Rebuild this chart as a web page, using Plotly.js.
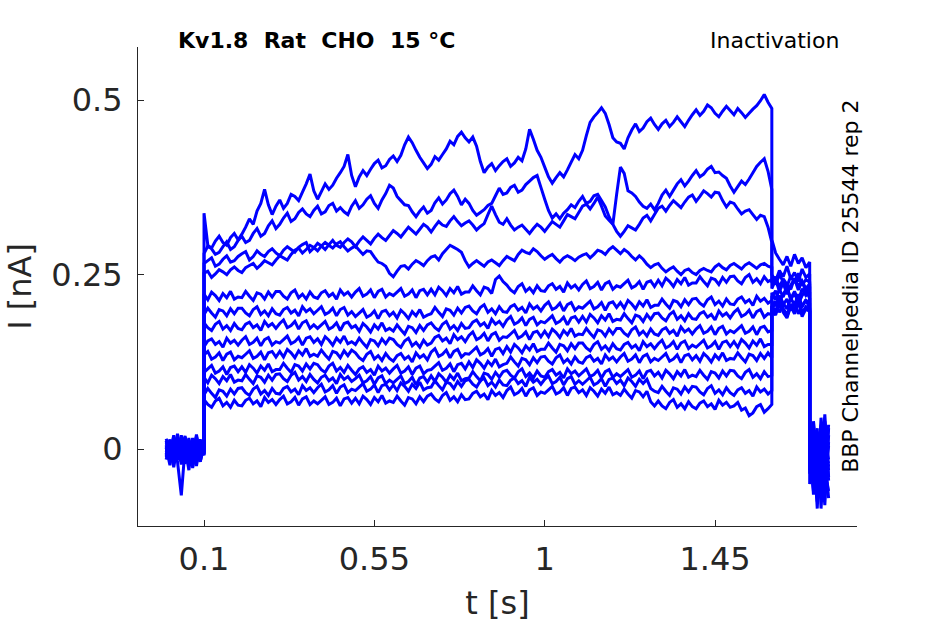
<!DOCTYPE html>
<html>
<head>
<meta charset="utf-8">
<script src="https://cdn.plot.ly/plotly-3.0.1.min.js"></script>
<style>
  body { margin: 0; background: #fff; }
  #chart { width: 945px; height: 624px; }
</style>
</head>
<body>
<div id="chart"></div>
<script>
// sample times [s]: holding, prepulse, test pulse, tail
var timeS = [
  0,0.01,0.02,0.03,0.04,0.05,0.06,0.07,0.08,0.09,0.1,
  0.1,0.11,0.12,0.13,0.14,0.15,0.16,0.17,0.18,0.19,
  0.2,0.21,0.22,0.23,0.24,0.25,0.26,0.27,0.28,0.29,
  0.3,0.31,0.32,0.33,0.34,0.35,0.36,0.37,0.38,0.39,
  0.4,0.41,0.42,0.43,0.44,0.45,0.46,0.47,0.48,0.49,
  0.5,0.51,0.52,0.53,0.54,0.55,0.56,0.57,0.58,0.59,
  0.6,0.61,0.62,0.63,0.64,0.65,0.66,0.67,0.68,0.69,
  0.7,0.71,0.72,0.73,0.74,0.75,0.76,0.77,0.78,0.79,
  0.8,0.81,0.82,0.83,0.84,0.85,0.86,0.87,0.88,0.89,
  0.9,0.91,0.92,0.93,0.94,0.95,0.96,0.97,0.98,0.99,
  1,1.01,1.02,1.03,1.04,1.05,1.06,1.07,1.08,1.09,
  1.1,1.11,1.12,1.13,1.14,1.15,1.16,1.17,1.18,1.19,
  1.2,1.21,1.22,1.23,1.24,1.25,1.26,1.27,1.28,1.29,
  1.3,1.31,1.32,1.33,1.34,1.35,1.36,1.37,1.38,1.39,
  1.4,1.41,1.42,1.43,1.44,1.45,1.46,1.47,1.48,1.49,
  1.5,1.51,1.52,1.53,1.54,1.55,1.56,1.57,1.58,1.59,1.6,
  1.6,1.61,1.62,1.63,1.64,1.65,1.66,1.67,1.68,1.69,1.7,
  1.7,1.71,1.72,1.73,1.74,1.75
];

// sweep currents in pA (converted to nA when plotted)
var sweep01 = [
  5,-12,18,-8,10,-20,12,-5,15,-10,8,
  338,292,288,298,305,296,292,303,309,300,
  308,318,330,322,341,352,372,350,336,348,
  357,345,352,365,362,356,368,380,394,370,
  358,369,380,372,378,388,396,405,422,392,
  376,390,399,392,401,409,414,403,406,415,
  420,412,421,436,447,439,428,418,410,402,
  408,419,414,422,430,441,436,448,454,446,
  440,447,434,412,396,404,409,399,406,412,
  416,405,410,418,413,430,458,444,428,418,
  404,390,381,389,396,390,400,411,422,416,
  428,449,468,476,482,489,481,465,446,440,
  438,430,446,457,466,455,460,469,474,465,
  458,466,471,462,468,476,469,462,471,479,
  486,478,484,493,489,481,476,484,491,485,
  479,488,482,475,481,487,492,499,508,497,488,
  300,281,272,264,276,262,279,266,274,260,268,
  30,-45,20,-60,10,-30
];
var sweep02 = [
  -8,14,-15,6,-22,9,-4,16,-12,3,-6,
  280,291,287,279,282,290,297,286,290,299,
  305,296,299,309,316,305,309,320,327,316,
  322,331,338,326,330,339,344,337,333,342,
  348,337,340,349,352,341,346,340,336,348,
  356,345,350,358,363,352,345,357,366,378,
  374,362,356,350,349,340,333,341,347,338,
  342,353,360,351,357,366,371,362,350,358,
  352,342,335,339,343,349,352,363,374,365,
  367,375,378,368,371,379,384,389,392,375,
  358,342,331,337,330,338,343,350,346,355,
  362,352,355,363,365,356,347,333,322,365,
  404,395,370,367,362,354,348,345,351,343,
  352,364,371,362,371,380,386,377,384,392,
  399,390,394,401,405,396,397,392,388,377,
  368,376,384,379,387,396,405,411,416,398,372,
  250,241,256,247,262,244,253,240,258,246,251,
  -20,15,-70,35,-40,5
];
var sweep03 = [
  12,-18,4,-9,20,-14,7,-25,10,-3,2,
  266,270,274,262,265,272,277,268,270,276,
  280,283,271,276,284,279,276,283,287,281,
  277,285,290,286,282,289,293,296,283,288,
  295,291,286,293,299,292,289,296,301,297,
  290,298,304,299,294,302,308,303,299,306,
  313,309,304,311,318,313,308,315,322,318,
  311,319,326,321,319,327,333,326,320,324,
  327,321,314,319,323,336,348,336,325,322,
  330,321,314,318,321,315,309,316,322,318,
  312,319,326,322,318,327,336,333,330,339,
  348,351,344,352,361,348,334,328,322,312,
  305,312,320,317,314,322,331,335,327,336,
  345,348,341,349,356,351,346,354,361,364,
  355,362,370,366,361,368,367,356,347,354,
  352,344,337,341,343,336,329,335,333,318,296,
  245,236,250,240,233,248,238,252,235,243,239,
  10,-55,25,-15,-80,20
];
var sweep04 = [
  -15,8,-6,22,-11,3,-30,9,-2,14,-9,
  252,255,246,251,257,254,250,257,261,256,
  253,260,263,266,259,264,270,267,264,271,
  277,274,271,279,285,288,281,286,292,289,
  284,291,296,292,288,294,297,290,284,288,
  291,285,279,284,283,275,268,266,262,252,
  247,255,262,263,258,265,270,267,263,270,
  275,277,271,280,286,292,289,286,282,270,
  261,266,270,266,262,268,271,267,263,270,
  276,273,270,279,285,282,280,287,283,277,
  272,276,279,273,268,274,277,274,270,275,
  278,280,274,279,285,283,279,286,290,285,
  280,286,282,276,271,277,272,265,260,264,
  266,259,254,258,261,255,250,256,258,253,
  250,256,259,256,254,261,265,260,257,263,
  266,262,258,264,267,263,259,264,266,262,260,
  238,247,232,244,236,229,245,234,241,230,237,
  -35,40,-10,-65,15,-25
];
var sweep05 = [
  3,-16,11,-4,17,-21,6,-9,13,-18,4,
  222,214,225,220,213,223,217,226,215,218,
  217,226,219,213,224,222,215,225,218,226,
  226,219,215,224,228,217,222,215,225,218,
  216,224,227,219,223,215,228,221,225,218,
  225,230,219,222,228,217,226,229,218,223,
  220,225,230,219,222,228,217,227,229,221,
  229,221,232,227,220,230,224,233,222,225,
  225,234,227,221,232,230,223,243,248,240,
  235,228,224,233,237,226,231,224,234,227,
  226,234,237,229,233,225,238,231,235,228,
  236,241,230,233,239,228,237,240,229,234,
  232,237,242,231,234,240,229,239,241,233,
  242,234,245,240,233,243,237,246,235,238,
  238,247,240,234,245,243,236,246,239,247,
  248,241,237,246,250,239,244,237,247,240,243,
  230,243,226,238,222,235,244,228,240,225,233,
  45,-30,0,-50,30,-15
];
var sweep06 = [
  -10,7,-19,12,-3,19,-13,2,-24,8,-5,
  193,202,195,189,200,198,191,201,194,202,
  202,195,191,200,204,193,198,191,201,194,
  192,200,203,195,199,191,204,197,201,194,
  199,204,193,196,202,191,200,203,192,197,
  190,195,200,189,192,198,187,197,199,191,
  196,188,199,194,187,197,191,200,189,192,
  194,203,196,190,201,199,192,202,195,203,
  205,198,194,203,207,196,201,194,204,197,
  196,204,207,199,203,195,208,201,205,198,
  206,211,200,203,209,198,207,210,199,204,
  202,207,212,201,204,210,199,209,211,203,
  210,202,213,208,201,211,205,214,203,206,
  206,215,208,202,213,211,204,214,207,215,
  216,209,205,214,218,207,212,205,215,208,
  207,215,218,210,214,206,219,212,216,209,213,
  224,214,229,218,232,216,226,212,230,220,225,
  -5,-60,20,-30,40,-45
];
var sweep07 = [
  6,-12,15,-7,1,-17,10,-22,5,-8,11,
  181,174,170,179,183,172,177,170,180,173,
  171,179,182,174,178,170,183,176,180,173,
  180,185,174,177,183,172,181,184,173,178,
  173,178,183,172,175,181,170,180,182,174,
  177,169,180,175,168,178,172,181,170,173,
  169,178,171,165,176,174,167,177,170,178,
  181,174,170,179,183,172,177,170,180,173,
  174,182,185,177,181,173,186,179,183,176,
  185,190,179,182,188,177,186,189,178,183,
  181,186,191,180,183,189,178,188,190,182,
  190,182,193,188,181,191,185,194,183,186,
  185,194,187,181,192,190,183,193,186,194,
  195,188,184,193,197,186,191,184,194,187,
  186,194,197,189,193,185,198,191,195,188,
  196,201,190,193,199,188,197,200,189,194,193,
  218,227,210,222,231,214,224,208,220,228,216,
  25,-20,-75,10,-35,35
];
var sweep08 = [
  -4,13,-9,5,-18,9,-1,15,-14,2,-7,
  147,155,158,150,154,146,159,152,156,149,
  156,161,150,153,159,148,157,160,149,154,
  152,157,162,151,154,160,149,159,161,153,
  158,150,161,156,149,159,153,162,151,154,
  150,159,152,146,157,155,148,158,151,159,
  157,150,146,155,159,148,153,146,156,149,
  152,160,163,155,159,151,164,157,161,154,
  163,168,157,160,166,155,164,167,156,161,
  160,165,170,159,162,168,157,167,169,161,
  169,161,172,167,160,170,164,173,162,165,
  164,173,166,160,171,169,162,172,165,173,
  173,166,162,171,175,164,169,162,172,165,
  163,171,174,166,170,162,175,168,172,165,
  172,177,166,169,175,164,173,176,165,170,
  167,172,177,166,169,175,164,174,176,168,170,
  212,205,220,209,201,216,207,222,204,213,208,
  -30,15,-55,45,-10,-70
];
var sweep09 = [
  9,-6,20,-15,4,-10,16,-27,7,-4,12,
  135,140,129,132,138,127,136,139,128,133,
  131,136,141,130,133,139,128,138,140,132,
  140,132,143,138,131,141,135,144,133,136,
  133,142,135,129,140,138,131,141,134,142,
  138,131,127,136,140,129,134,127,137,130,
  126,134,137,129,133,125,138,131,135,128,
  139,144,133,136,142,131,140,143,132,137,
  136,141,146,135,138,144,133,143,145,137,
  147,139,150,145,138,148,142,151,140,143,
  143,152,145,139,150,148,141,151,144,152,
  152,145,141,150,154,143,148,141,151,144,
  142,150,153,145,149,141,154,147,151,144,
  151,156,145,148,154,143,152,155,144,149,
  146,151,156,145,148,154,143,153,155,147,
  154,146,157,152,145,155,149,158,147,150,150,
  200,212,196,207,215,199,210,194,205,214,202,
  5,-40,30,-85,0,-20
];
var sweep10 = [
  -12,4,-20,14,-6,8,-16,1,18,-11,-2,
  110,115,120,109,112,118,107,117,119,111,
  118,110,121,116,109,119,113,122,111,114,
  114,123,116,110,121,119,112,122,115,123,
  121,114,110,119,123,112,117,110,120,113,
  107,115,118,110,114,106,119,112,116,109,
  115,120,109,112,118,107,116,119,108,113,
  114,119,124,113,116,122,111,121,123,115,
  125,117,128,123,116,126,120,129,118,121,
  123,132,125,119,130,128,121,131,124,132,
  133,126,122,131,135,124,129,122,132,125,
  123,131,134,126,130,122,135,128,132,125,
  132,137,126,129,135,124,133,136,125,130,
  127,132,137,126,129,135,124,134,136,128,
  134,126,137,132,125,135,129,138,127,130,
  129,138,131,125,136,134,127,137,130,138,131,
  205,196,211,200,190,206,197,213,193,203,198,
  35,-25,-60,20,-45,10
];
var sweep11 = [
  2,-23,10,-5,14,-9,0,-14,21,-7,5,
  103,95,106,101,94,104,98,107,96,99,
  98,107,100,94,105,103,96,106,99,107,
  108,101,97,106,110,99,104,97,107,100,
  95,103,106,98,102,94,107,100,104,97,
  101,106,95,98,104,93,102,105,94,99,
  95,100,105,94,97,103,92,102,104,96,
  105,97,108,103,96,106,100,109,98,101,
  102,111,104,98,109,107,100,110,103,111,
  113,106,102,111,115,104,109,102,112,105,
  103,111,114,106,110,102,115,108,112,105,
  110,115,104,107,113,102,111,114,103,108,
  104,109,114,103,106,112,101,111,113,105,
  110,102,113,108,101,111,105,114,103,106,
  104,113,106,100,111,109,102,112,105,113,
  112,105,101,110,114,103,108,101,111,104,106,
  205,197,213,201,193,208,198,215,195,204,200,
  -15,25,-50,-5,-70,30
];
var sweep12 = [
  -7,11,-26,6,-13,17,-5,10,-19,3,-8,
  78,87,80,74,85,83,76,86,79,87,
  88,81,77,86,90,79,84,77,87,80,
  79,87,90,82,86,78,91,84,88,81,
  88,93,82,85,91,80,89,92,81,86,
  84,89,94,83,86,92,81,91,93,85,
  92,84,95,90,83,93,87,96,85,88,
  89,98,91,85,96,94,87,97,90,98,
  100,93,89,98,102,91,96,89,99,92,
  91,99,102,94,98,90,103,96,100,93,
  100,105,94,97,103,92,101,104,93,98,
  93,98,103,92,95,101,90,100,102,94,
  99,91,102,97,90,100,94,100,87,83,
  81,90,83,77,88,86,79,89,82,90,
  89,82,78,87,91,80,85,78,88,81,
  77,85,88,80,84,76,89,82,86,79,84,
  203,195,211,199,191,207,197,213,193,202,198,
  20,-65,5,-25,50,-40
];
var sweep13 = [
  15,-3,7,-18,-66,2,-12,13,-1,-18,6,
  71,64,60,69,73,62,67,60,70,63,
  62,70,73,65,69,61,74,67,71,64,
  71,76,65,68,74,63,72,75,64,69,
  65,70,75,64,67,73,62,72,74,66,
  73,65,76,71,64,74,68,77,66,69,
  67,76,69,63,74,72,65,75,68,76,
  79,72,68,77,81,70,75,68,78,71,
  72,80,83,75,79,71,84,77,81,74,
  84,89,78,81,87,76,85,88,77,82,
  80,85,90,79,82,88,77,87,89,81,
  85,77,88,83,76,86,80,89,78,81,
  77,86,79,73,84,82,75,83,68,62,
  69,62,58,67,71,60,65,58,68,61,
  58,66,69,61,65,57,70,63,67,60,
  62,67,56,59,48,52,61,64,53,58,64,
  200,192,210,196,188,205,194,212,190,201,197,
  -50,10,-85,25,-30,-60
];

var sweeps = [sweep01, sweep02, sweep03, sweep04, sweep05, sweep06, sweep07,
              sweep08, sweep09, sweep10, sweep11, sweep12, sweep13];

var xTicks = [0.1, 0.55, 1, 1.45];
var xTickText = ['0.1', '0.55', '1', '1.45'];
var yTicks = [0, 0.25, 0.5];
var yTickText = ['0', '0.25', '0.5'];

var axisColor = '#262626';
var lineBlue = 'rgb(0, 0, 255)';

var data = sweeps.map(function(s){
  return {
    x: timeS,
    y: s.map(function(v){ return v / 1000; }),
    type: 'scatter',
    mode: 'lines',
    line: { color: lineBlue, width: 3, simplify: false },
    hoverinfo: 'skip'
  };
});

var layout = {
  width: 945,
  height: 624,
  margin: { l: 138, r: 88, t: 47, b: 98, pad: 0 },
  paper_bgcolor: 'white',
  plot_bgcolor: 'white',
  showlegend: false,
  hovermode: false,
  font: { family: '"DejaVu Sans", sans-serif', color: axisColor },
  xaxis: {
    range: [-0.0744, 1.825],
    tickvals: xTicks,
    ticktext: xTickText,
    ticks: 'inside',
    ticklen: 6,
    tickcolor: axisColor,
    tickfont: { size: 32, color: axisColor },
    ticklabelstandoff: 5,
    showline: true,
    linecolor: axisColor,
    linewidth: 1,
    showgrid: false,
    zeroline: false,
    title: { text: 't [s]', font: { size: 32, color: axisColor }, standoff: 14 }
  },
  yaxis: {
    range: [-0.110, 0.576],
    tickvals: yTicks,
    ticktext: yTickText,
    ticks: 'inside',
    ticklen: 6,
    tickcolor: axisColor,
    tickfont: { size: 32, color: axisColor },
    ticklabelstandoff: 8,
    showline: true,
    linecolor: axisColor,
    linewidth: 1,
    showgrid: false,
    zeroline: false,
    title: { text: 'I [nA]', font: { size: 32, color: axisColor }, standoff: 10 }
  },
  annotations: [
    {
      text: '<b>Kv1.8\u00a0\u00a0Rat\u00a0\u00a0CHO\u00a0\u00a015 °C</b>',
      xref: 'paper', yref: 'paper', x: 0.0529, y: 1.0146,
      xanchor: 'left', yanchor: 'middle', showarrow: false,
      font: { size: 22, color: '#000' }
    },
    {
      text: 'Inactivation',
      xref: 'paper', yref: 'paper', x: 0.9776, y: 1.0146,
      xanchor: 'right', yanchor: 'middle', showarrow: false,
      font: { size: 22, color: '#000' }
    },
    {
      text: 'BBP Channelpedia ID 25544 rep 2',
      xref: 'paper', yref: 'paper', x: 0.990, y: 0.501,
      xanchor: 'center', yanchor: 'middle', textangle: -90, showarrow: false,
      font: { size: 22, color: '#000' }
    }
  ]
};

Plotly.newPlot('chart', data, layout, { displayModeBar: false, staticPlot: true });
</script>
</body>
</html>
